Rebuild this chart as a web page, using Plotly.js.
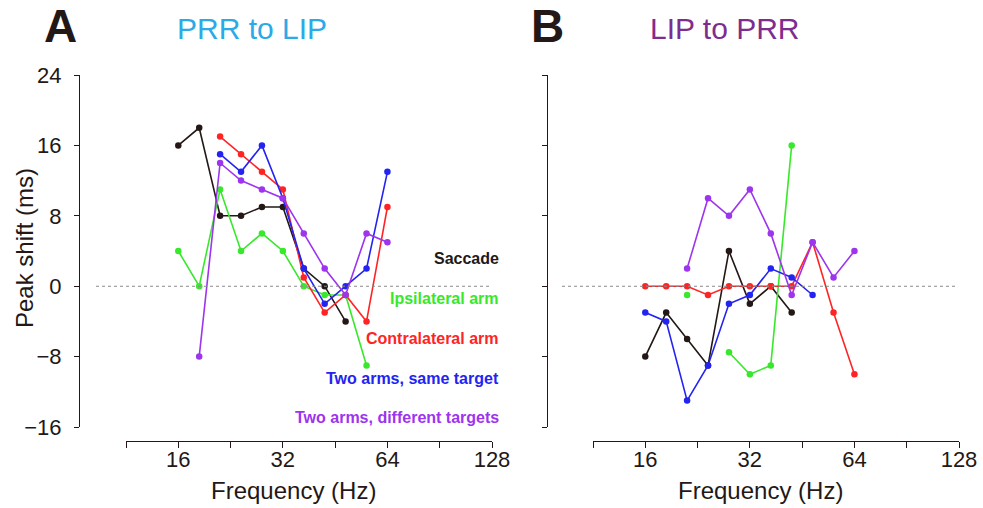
<!DOCTYPE html>
<html>
<head>
<meta charset="utf-8">
<script src="https://cdn.plot.ly/plotly-3.0.1.min.js"></script>
<style>html,body{margin:0;padding:0;background:#fff;}#chart{width:983px;height:508px;}</style>
</head>
<body>
<div id="chart"></div>
<script>
// Frequencies (Hz), 0.2-octave steps from 16 to 64
var freqs = [16, 18.38, 21.11, 24.25, 27.86, 32, 36.76, 42.22, 48.5, 55.72, 64];

// Panel A: PRR to LIP, peak shift (ms)
var saccadeA = [16, 18, 8, 8, 9, 9, 2, 0, -4, null, null];
var ipsiA    = [4, 0, 11, 4, 6, 4, 0, -1, -1, -9, null];
var contraA  = [null, null, 17, 15, 13, 11, 1, -3, -1, -4, 9];
var sameA    = [null, null, 15, 13, 16, 10, 2, -2, 0, 2, 13];
var diffA    = [null, -8, 14, 12, 11, 10, 6, 2, -1, 6, 5];

// Panel B: LIP to PRR, peak shift (ms)
var saccadeB = [-8, -3, -6, -9, 4, -2, 0, -3, null, null, null];
var ipsiB    = [null, null, -1, null, -7.5, -10, -9, 16, null, null, null];
var contraB  = [0, 0, 0, -1, 0, 0, 0, 0, 5, -3, -10];
var sameB    = [-3, -4, -13, -9, -2, -1, 2, 1, -1, null, null];
var diffB    = [null, null, 2, 10, 8, 11, 6, -1, 5, 1, 4];

var seriesNames = ["Saccade", "Ipsilateral arm", "Contralateral arm", "Two arms, same target", "Two arms, different targets"];
var xTickVals = [11.314, 16, 22.627, 32, 45.255, 64, 90.51, 128];
var xTickText = ["", "16", "", "32", "", "64", "", "128"];
var yTickVals = [-16, -8, 0, 8, 16, 24];

var colors = ["#231815", "#38e82a", "#ff2424", "#2323f2", "#9d34ee"];
var ink = "#231815";
var W = 983, H = 508;
function px(x) { return x / W; }
function py(y) { return 1 - y / H; }

var dataA = [saccadeA, ipsiA, contraA, sameA, diffA];
var dataB = [saccadeB, ipsiB, contraB, sameB, diffB];
var traces = [];
dataA.forEach(function (ys, i) {
  traces.push({x: freqs, y: ys, xaxis: "x", yaxis: "y", type: "scatter", mode: "lines+markers",
    name: seriesNames[i], connectgaps: false, showlegend: false,
    line: {color: colors[i], width: 1.6}, marker: {color: colors[i], size: 6.5}});
});
dataB.forEach(function (ys, i) {
  traces.push({x: freqs, y: ys, xaxis: "x2", yaxis: "y2", type: "scatter", mode: "lines+markers",
    name: seriesNames[i], connectgaps: false, showlegend: false,
    line: {color: colors[i], width: 1.6}, marker: {color: colors[i], size: 6.5}});
});

var fontFam = "'Liberation Sans', Arial, Helvetica, sans-serif";
function xAxis(d0, d1) {
  return {type: "log", domain: [px(d0), px(d1)], range: [Math.log10(11.314), Math.log10(128)],
    anchor: "free", position: py(441), showline: true, linecolor: ink, linewidth: 1,
    ticks: "outside", ticklen: 6, tickcolor: ink, tickwidth: 1,
    tickmode: "array", tickvals: xTickVals, ticktext: xTickText,
    tickfont: {family: fontFam, size: 22, color: ink}, ticklabelstandoff: -7,
    showgrid: false, zeroline: false, automargin: false, fixedrange: true};
}
function yAxis(pos, showLabels) {
  return {domain: [py(427), py(75)], range: [-16, 24], anchor: "free", position: px(pos),
    showline: true, linecolor: ink, linewidth: 1, ticks: "outside", ticklen: 5, tickcolor: ink, tickwidth: 1,
    tickmode: "array", tickvals: yTickVals, showticklabels: showLabels,
    tickfont: {family: fontFam, size: 22, color: ink}, ticklabelstandoff: 8,
    showgrid: false, zeroline: false, automargin: false, fixedrange: true};
}

var legendY = [258, 298, 338, 378, 417];
var annotations = [];
seriesNames.forEach(function (n, i) {
  annotations.push({text: "<b>" + n + "</b>", xref: "paper", yref: "paper", x: px(501), y: py(legendY[i]),
    xanchor: "right", yanchor: "middle", showarrow: false,
    font: {family: fontFam, size: 16, color: colors[i]}});
});
annotations.push({text: "<b>A</b>", xref: "paper", yref: "paper", x: px(60), y: py(26), xanchor: "center", yanchor: "middle",
  showarrow: false, font: {family: fontFam, size: 46, color: ink}});
annotations.push({text: "<b>B</b>", xref: "paper", yref: "paper", x: px(547), y: py(26), xanchor: "center", yanchor: "middle",
  showarrow: false, font: {family: fontFam, size: 46, color: ink}});
annotations.push({text: "PRR to LIP", xref: "paper", yref: "paper", x: px(252), y: py(28), xanchor: "center", yanchor: "middle",
  showarrow: false, font: {family: fontFam, size: 30, color: "#2aaae6"}});
annotations.push({text: "LIP to PRR", xref: "paper", yref: "paper", x: px(725), y: py(28), xanchor: "center", yanchor: "middle",
  showarrow: false, font: {family: fontFam, size: 30, color: "#7e2d8f"}});
annotations.push({text: "Frequency (Hz)", xref: "paper", yref: "paper", x: px(293), y: py(490), xanchor: "center", yanchor: "middle",
  showarrow: false, font: {family: fontFam, size: 24, color: ink}});
annotations.push({text: "Frequency (Hz)", xref: "paper", yref: "paper", x: px(760), y: py(490), xanchor: "center", yanchor: "middle",
  showarrow: false, font: {family: fontFam, size: 24, color: ink}});
annotations.push({text: "Peak shift (ms)", xref: "paper", yref: "paper", x: px(24), y: py(248), xanchor: "center", yanchor: "middle",
  textangle: -90, showarrow: false, font: {family: fontFam, size: 24, color: ink}});

var shapes = [
  {type: "line", xref: "paper", yref: "y", x0: px(96), x1: px(490), y0: 0, y1: 0, line: {color: "#8a8a8a", width: 1.1, dash: "dot"}},
  {type: "line", xref: "paper", yref: "y2", x0: px(562), x1: px(958), y0: 0, y1: 0, line: {color: "#8a8a8a", width: 1.1, dash: "dot"}}
];

var layout = {
  width: W, height: H, margin: {l: 0, r: 0, t: 0, b: 0},
  paper_bgcolor: "#ffffff", plot_bgcolor: "rgba(0,0,0,0)",
  xaxis: xAxis(126, 492), yaxis: yAxis(79, true),
  xaxis2: xAxis(593, 959), yaxis2: yAxis(547, false),
  annotations: annotations, shapes: shapes, showlegend: false,
  font: {family: fontFam, color: ink}
};
Plotly.newPlot("chart", traces, layout, {displayModeBar: false, staticPlot: true});
</script>
</body>
</html>
